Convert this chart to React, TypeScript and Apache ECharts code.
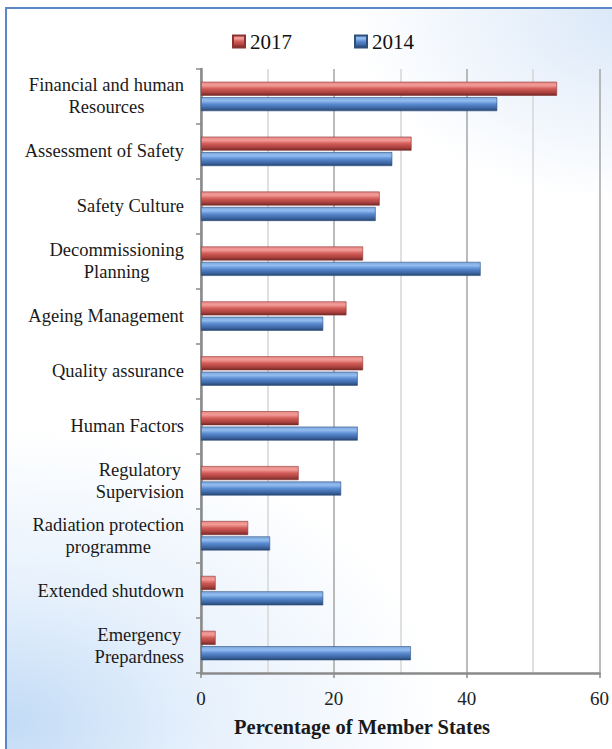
import React, { useEffect, useRef } from 'react';
import * as echarts from 'echarts';

const categories = [
  'Financial and human\nResources',
  'Assessment of Safety',
  'Safety Culture',
  'Decommissioning\nPlanning',
  'Ageing Management',
  'Quality assurance',
  'Human Factors',
  'Regulatory\nSupervision',
  'Radiation protection\nprogramme',
  'Extended shutdown',
  'Emergency\nPrepardness',
];
const values2017 = [53.6, 31.7, 26.9, 24.4, 21.9, 24.4, 14.7, 14.7, 7.1, 2.2, 2.2];
const values2014 = [44.6, 28.8, 26.3, 42.1, 18.4, 23.6, 23.6, 21.1, 10.4, 18.4, 31.6];
const seriesNames = ['2017', '2014'];
const axisTitle = 'Percentage of Member States';

const SERIF = 'Liberation Serif';

const redGrad = {
  type: 'linear', x: 0, y: 0, x2: 0, y2: 1,
  colorStops: [
    { offset: 0, color: '#e98a87' },
    { offset: 0.25, color: '#f29b97' },
    { offset: 0.5, color: '#d25c58' },
    { offset: 0.8, color: '#a8403d' },
    { offset: 1, color: '#6e2725' },
  ],
};
const blueGrad = {
  type: 'linear', x: 0, y: 0, x2: 0, y2: 1,
  colorStops: [
    { offset: 0, color: '#7aa6de' },
    { offset: 0.25, color: '#93bdf0' },
    { offset: 0.5, color: '#5a8ad0' },
    { offset: 0.8, color: '#3c66a3' },
    { offset: 1, color: '#27466f' },
  ],
};

export default function App() {
  const ref = useRef<HTMLDivElement>(null);
  useEffect(() => {
    document.body.style.margin = '0';
    if (!ref.current) return;
    const chart = echarts.init(ref.current, undefined, { renderer: 'svg' });
    chart.setOption({
      animation: false,
      backgroundColor: 'transparent',
      textStyle: { fontFamily: SERIF },
      legend: {
        data: seriesNames,
        left: 227,
        top: 26,
        itemWidth: 12,
        itemHeight: 12,
        itemGap: 62,
        icon: 'rect',
        textStyle: { fontFamily: SERIF, fontSize: 21, color: '#111' },
      },
      grid: { left: 201, right: 10, top: 69, bottom: 76, containLabel: false },
      xAxis: {
        type: 'value',
        min: 0,
        max: 60,
        interval: 20,
        axisLine: { show: true, lineStyle: { color: '#8a8a8a', width: 2.5 } },
        axisTick: { show: true, length: 5, lineStyle: { color: '#8a8a8a', width: 1.5 } },
        axisLabel: { fontFamily: SERIF, fontSize: 19, color: '#222', margin: 16 },
        splitLine: { show: true, lineStyle: { color: '#a4a4a4', width: 1.5 } },
        minorTick: { show: false, splitNumber: 2 },
        minorSplitLine: { show: true, lineStyle: { color: '#d6d6d6', width: 1.5 } },
      },
      yAxis: {
        type: 'category',
        inverse: true,
        data: categories,
        axisLine: { show: true, lineStyle: { color: '#8a8a8a', width: 2.5 } },
        axisTick: { show: true, length: 5, lineStyle: { color: '#8a8a8a', width: 1.5 } },
        axisLabel: {
          margin: 17,
          align: 'right',
          fontFamily: SERIF,
          fontSize: 18.5,
          color: '#1a1a1a',
          formatter: (v: string) => v.split('\n').map((l) => `{c|${l}}`).join('\n'),
          rich: {
            c: { align: 'center', fontFamily: SERIF, fontSize: 18.5, color: '#1a1a1a', lineHeight: 22 },
          },
        },
      },
      series: [
        {
          name: seriesNames[0],
          type: 'bar',
          data: values2017,
          barWidth: 14,
          barGap: '10%',
          itemStyle: { color: redGrad, borderColor: '#8a3331', borderWidth: 0.6 },
        },
        {
          name: seriesNames[1],
          type: 'bar',
          data: values2014,
          barWidth: 14,
          barGap: '10%',
          itemStyle: { color: blueGrad, borderColor: '#2f4f7d', borderWidth: 0.6 },
        },
      ],
      graphic: [
        {
          type: 'text',
          x: 362,
          y: 727,
          style: {
            text: axisTitle,
            align: 'center',
            verticalAlign: 'middle',
            font: 'bold 20.5px "Liberation Serif"',
            fill: '#1a1a1a',
          },
        },
      ],
    });
    return () => chart.dispose();
  }, []);

  return (
    <div style={{ position: 'relative', width: 612, height: 749, overflow: 'hidden', background: '#fff' }}>
      <div
        style={{
          position: 'absolute',
          left: 5,
          top: 7,
          width: 630,
          height: 780,
          border: '2px solid #5b87c8',
          boxSizing: 'border-box',
          background:
            'radial-gradient(ellipse 70% 38% at 0% 92%, #c2dbf6 0%, rgba(214,231,250,0.6) 45%, rgba(255,255,255,0) 100%), radial-gradient(ellipse 45% 25% at 100% 0%, #d9e7f8 0%, rgba(255,255,255,0) 100%), #ffffff',
        }}
      />
      <div ref={ref} style={{ position: 'absolute', left: 0, top: 0, width: 612, height: 749 }} />
    </div>
  );
}
